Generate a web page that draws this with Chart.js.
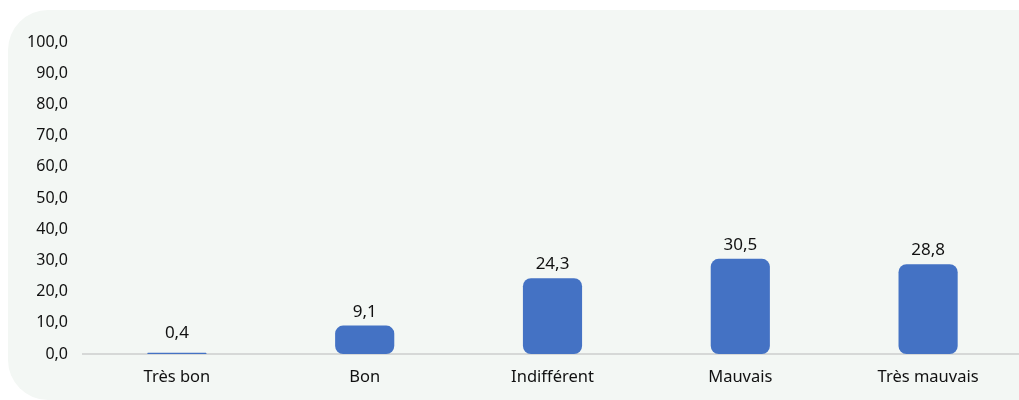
<!DOCTYPE html>
<html>
<head>
<meta charset="utf-8">
<script src="https://cdn.jsdelivr.net/npm/chart.js@4/dist/chart.umd.min.js"></script>
<style>
  html, body { margin: 0; padding: 0; background: #ffffff; overflow: hidden; }
  #wrap { position: relative; width: 1019px; height: 400px; overflow: hidden; }
  #panel { position: absolute; left: 8px; top: 10px; width: 1060px; height: 390px; background: #f3f7f4; border-radius: 40px; }
  #holder { position: absolute; left: 0; top: 0; width: 1022px; height: 400px; }
</style>
</head>
<body>
<div id="wrap">
  <div id="panel"></div>
  <div id="holder"><canvas id="c"></canvas></div>
</div>
<script>
const categories = ['Très bon', 'Bon', 'Indifférent', 'Mauvais', 'Très mauvais'];
const values = [0.4, 9.1, 24.3, 30.5, 28.8];
const yTicks = [0, 10, 20, 30, 40, 50, 60, 70, 80, 90, 100];

const fmt = v => v.toFixed(1).replace('.', ',');
const FONT = '"Noto Sans", "Open Sans", sans-serif';

// Value written above each bar
const valueLabels = {
  id: 'valueLabels',
  afterDatasetsDraw(chart) {
    const ctx = chart.ctx;
    const meta = chart.getDatasetMeta(0);
    ctx.save();
    ctx.font = '17px ' + FONT;
    ctx.fillStyle = '#111111';
    ctx.textAlign = 'center';
    ctx.textBaseline = 'alphabetic';
    meta.data.forEach((bar, i) => {
      const gap = values[i] < 2 ? 15 : 9;
      ctx.fillText(fmt(values[i]), bar.x, bar.y - gap);
    });
    ctx.restore();
  }
};

new Chart(document.getElementById('c'), {
  type: 'bar',
  data: {
    labels: categories,
    datasets: [{
      data: values,
      backgroundColor: '#4472c4',
      borderRadius: 8,
      borderSkipped: false,
      barPercentage: 0.63,
      categoryPercentage: 0.5
    }]
  },
  options: {
    responsive: true,
    maintainAspectRatio: false,
    animation: false,
    layout: { padding: { top: 42, left: 0, right: 0, bottom: 0 } },
    plugins: { legend: { display: false }, tooltip: { enabled: false } },
    scales: {
      x: {
        grid: { display: false, drawTicks: false },
        border: { display: true, color: '#d6d8d7', width: 2 },
        ticks: { color: '#111111', font: { family: FONT, size: 16.5 }, padding: 13 },
        afterFit(scale) { scale.height = 46; }
      },
      y: {
        min: 0, max: 100,
        afterBuildTicks(scale) { scale.ticks = yTicks.map(v => ({ value: v })); },
        grid: { display: false, drawTicks: false },
        border: { display: false },
        ticks: { color: '#111111', font: { family: FONT, size: 16 }, padding: 15, callback: v => fmt(v) },
        afterFit(scale) { scale.width = 83; }
      }
    }
  },
  plugins: [valueLabels]
});
</script>
</body>
</html>
